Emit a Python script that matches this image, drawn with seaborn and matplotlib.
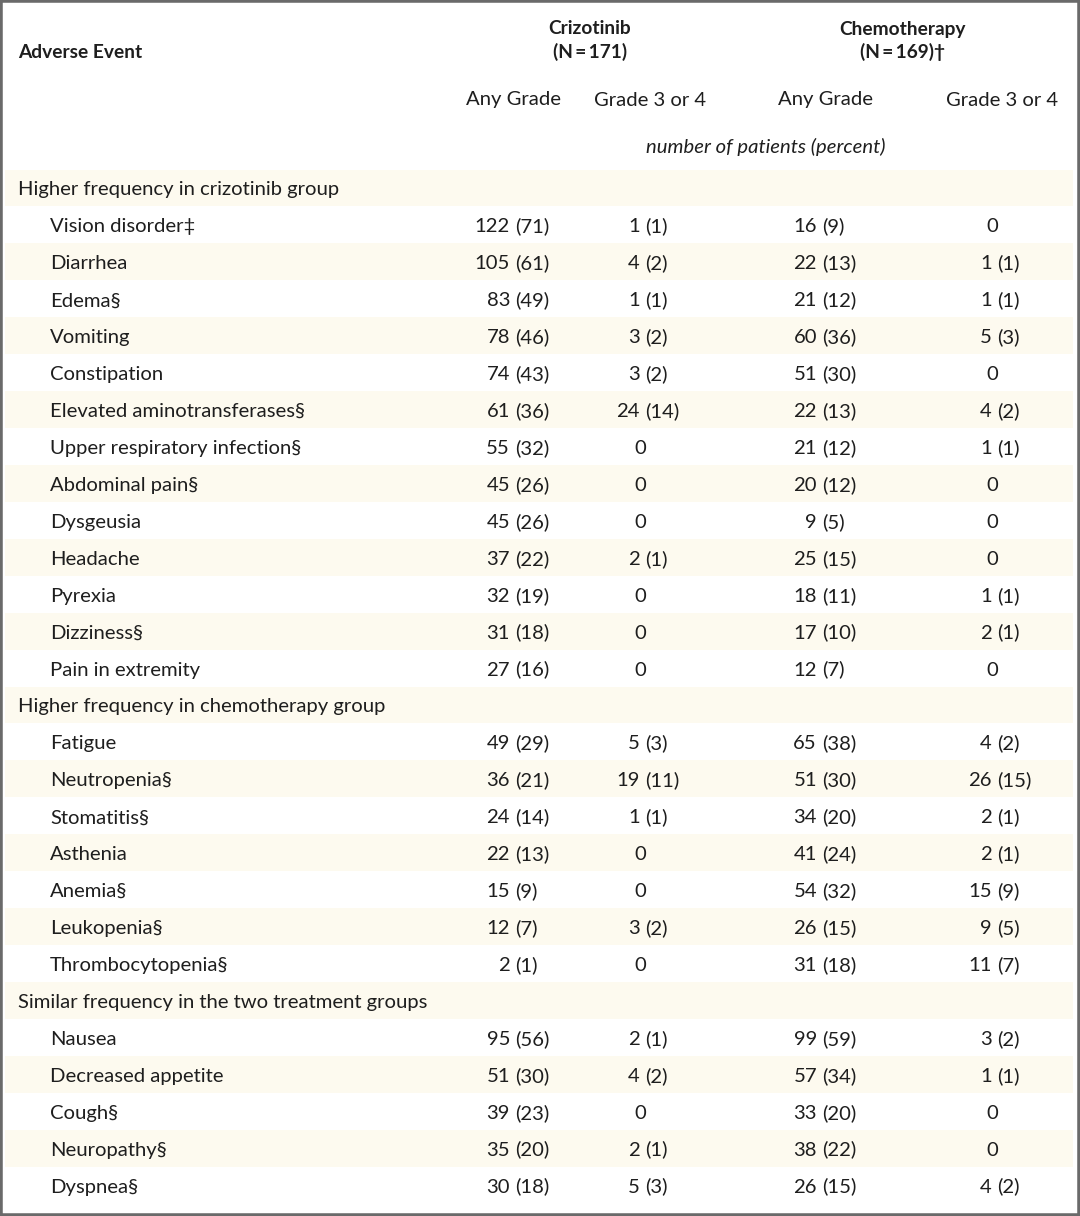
import numpy as np
import pandas as pd
import seaborn as sns
import matplotlib.pyplot as plt
from matplotlib.patches import Rectangle

# table content
groups = ["Crizotinib\n(N\u2009=\u2009171)", "Chemotherapy\n(N\u2009=\u2009169)\u2020"]
subheads = ["Any Grade", "Grade 3 or 4", "Any Grade", "Grade 3 or 4"]
units = "number of patients (percent)"

sections = [
    "Higher frequency in crizotinib group",
    "Higher frequency in chemotherapy group",
    "Similar frequency in the two treatment groups",
]
section_sizes = [13, 7, 5]

events = [
    "Vision disorder\u2021", "Diarrhea", "Edema\u00a7", "Vomiting", "Constipation",
    "Elevated aminotransferases\u00a7", "Upper respiratory infection\u00a7",
    "Abdominal pain\u00a7", "Dysgeusia", "Headache", "Pyrexia", "Dizziness\u00a7",
    "Pain in extremity",
    "Fatigue", "Neutropenia\u00a7", "Stomatitis\u00a7", "Asthenia", "Anemia\u00a7",
    "Leukopenia\u00a7", "Thrombocytopenia\u00a7",
    "Nausea", "Decreased appetite", "Cough\u00a7", "Neuropathy\u00a7", "Dyspnea\u00a7",
]
crizo_any = [
    "122 (71)", "105 (61)", "83 (49)", "78 (46)", "74 (43)", "61 (36)", "55 (32)",
    "45 (26)", "45 (26)", "37 (22)", "32 (19)", "31 (18)", "27 (16)",
    "49 (29)", "36 (21)", "24 (14)", "22 (13)", "15 (9)", "12 (7)", "2 (1)",
    "95 (56)", "51 (30)", "39 (23)", "35 (20)", "30 (18)",
]
crizo_g34 = [
    "1 (1)", "4 (2)", "1 (1)", "3 (2)", "3 (2)", "24 (14)", "0",
    "0", "0", "2 (1)", "0", "0", "0",
    "5 (3)", "19 (11)", "1 (1)", "0", "0", "3 (2)", "0",
    "2 (1)", "4 (2)", "0", "2 (1)", "5 (3)",
]
chemo_any = [
    "16 (9)", "22 (13)", "21 (12)", "60 (36)", "51 (30)", "22 (13)", "21 (12)",
    "20 (12)", "9 (5)", "25 (15)", "18 (11)", "17 (10)", "12 (7)",
    "65 (38)", "51 (30)", "34 (20)", "41 (24)", "54 (32)", "26 (15)", "31 (18)",
    "99 (59)", "57 (34)", "33 (20)", "38 (22)", "26 (15)",
]
chemo_g34 = [
    "0", "1 (1)", "1 (1)", "5 (3)", "0", "4 (2)", "1 (1)",
    "0", "0", "0", "1 (1)", "2 (1)", "0",
    "4 (2)", "26 (15)", "2 (1)", "2 (1)", "15 (9)", "9 (5)", "11 (7)",
    "3 (2)", "1 (1)", "0", "0", "4 (2)",
]

# build row list: section header followed by its events
rows = []
start = 0
for name, size in zip(sections, section_sizes):
    rows.append(("section", name, None))
    for i in range(start, start + size):
        rows.append(("event", events[i], [crizo_any[i], crizo_g34[i], chemo_any[i], chemo_g34[i]]))
    start += size
table = pd.DataFrame(rows, columns=["kind", "label", "cells"])

sns.set_theme(style="white")
plt.rcParams['font.family'] = ['Lato', 'DejaVu Sans']

W, H = 1080, 1216
fig = plt.figure(figsize=(W / 100, H / 100), dpi=100)
fig.patch.set_facecolor("white")

# layout (pixels)
row_top = 169.5
pitch = 36.93
n_rows = len(table)
row_bottom = row_top + pitch * n_rows
paren_x = [515, 645, 822, 997]
txt = "#1e1e1e"
fs = 14.6
base = 7.5  # baseline offset below the row centre

# striped background through a heatmap
band = pd.DataFrame({"band": [1 if i % 2 == 0 else 0 for i in range(n_rows)]})
ax_bg = fig.add_axes([5 / W, 1 - row_bottom / H, (1073 - 5) / W, (row_bottom - row_top) / H])
sns.heatmap(band, ax=ax_bg, cmap=["#ffffff", "#fdfaef"], cbar=False,
            xticklabels=False, yticklabels=False, linewidths=0)
ax_bg.set_axis_off()

ax = fig.add_axes([0, 0, 1, 1])
ax.set_xlim(0, W)
ax.set_ylim(H, 0)
ax.set_axis_off()
ax.patch.set_alpha(0)


def put(x, y, s, ha="left", **kw):
    kw.setdefault("fontsize", fs)
    ax.text(x, y + base, s, ha=ha, va="baseline", color=txt, **kw)


# header
put(18, 50, "Adverse Event", fontsize=13.8, fontweight="bold")
for gx, g in zip([590, 903], groups):
    title, n = g.split("\n")
    put(gx, 27, title, ha="center", fontsize=13.8, fontweight="bold")
    put(gx, 50, n, ha="center", fontsize=13.8, fontweight="bold")
for sx, s in zip([513, 650, 826, 1002], subheads):
    put(sx, 98, s, ha="center")
put(766, 146, units, ha="center", style="italic")

# body
for i, r in table.iterrows():
    y = row_top + pitch * (i + 0.5)
    if r["kind"] == "section":
        put(18, y, r["label"])
        continue
    put(50, y, r["label"])
    for px, cell in zip(paren_x, r["cells"]):
        if "(" in cell:
            num, pct = cell.split(" ")
            put(px - 5, y, num, ha="right")
            put(px, y, pct)
        else:
            put(px - 5, y, cell, ha="center")

fig.patches.append(Rectangle((0, 0), 1, 1, transform=fig.transFigure, fill=False,
                             edgecolor="#6a6a6a", linewidth=4))

fig.savefig("out.png", dpi=100)
